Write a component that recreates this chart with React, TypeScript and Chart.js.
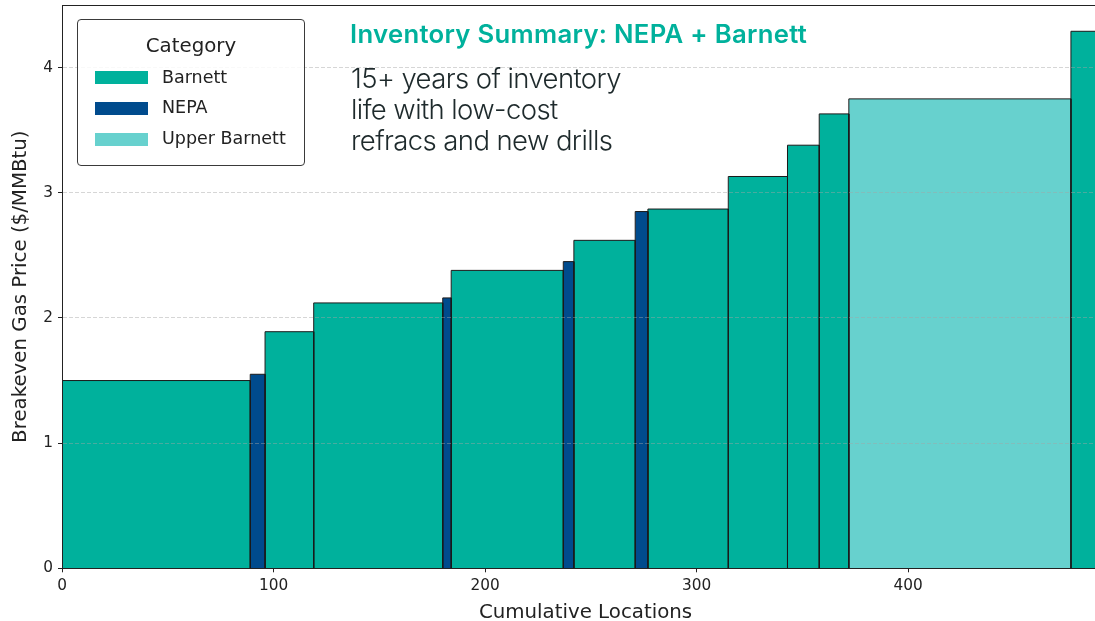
import React, { useEffect, useRef } from 'react';
import { Chart, registerables } from 'chart.js';

Chart.register(...registerables);

// ---- data ----
const categories = [
  'Barnett', 'NEPA', 'Barnett', 'Barnett', 'NEPA', 'Barnett', 'NEPA', 'Barnett',
  'NEPA', 'Barnett', 'Barnett', 'Barnett', 'Barnett', 'Upper Barnett', 'Barnett',
];
const locationCounts = [89, 7, 23, 61, 4, 53, 5, 29, 6, 38, 28, 15, 14, 105, 18];
const breakevenPrices = [1.5, 1.55, 1.89, 2.12, 2.16, 2.38, 2.45, 2.62, 2.85, 2.87, 3.13, 3.38, 3.63, 3.75, 4.29];
const legendCategories = ['Barnett', 'NEPA', 'Upper Barnett'];
const categoryColors: Record<string, string> = {
  Barnett: '#00B19C',
  NEPA: '#004B8D',
  'Upper Barnett': '#67D1CE',
};
const xTickValues = [0, 100, 200, 300, 400];
const yTickValues = [0, 1, 2, 3, 4];
const yMax = 4.5;
const titleText = 'Inventory Summary: NEPA + Barnett';
const subtitleLines = ['15+ years of inventory', 'life with low-cost', 'refracs and new drills'];
const xAxisLabel = 'Cumulative Locations';
const yAxisLabel = 'Breakeven Gas Price ($/MMBtu)';

const AXIS = '#222222';
const FONT = "'DejaVu Sans', sans-serif";

export default function App() {
  const canvasRef = useRef<HTMLCanvasElement | null>(null);

  useEffect(() => {
    document.body.style.margin = '0';
    const canvas = canvasRef.current;
    if (!canvas) return;

    let start = 0;
    const datasets = categories.map((cat, i) => {
      const x0 = start;
      const x1 = start + locationCounts[i];
      start = x1;
      const h = breakevenPrices[i];
      return {
        label: cat,
        data: [
          { x: x0, y: 0 },
          { x: x0, y: h },
          { x: x1, y: h },
          { x: x1, y: 0 },
        ],
        backgroundColor: categoryColors[cat],
        borderColor: '#1a1a1a',
        borderWidth: 1,
        borderJoinStyle: 'miter' as const,
        borderCapStyle: 'butt' as const,
        fill: 'origin',
        pointRadius: 0,
        pointHoverRadius: 0,
        tension: 0,
      };
    });
    const xMax = start;

    const noPad = (s: any) => {
      s.paddingTop = 0;
      s.paddingBottom = 0;
      s.paddingLeft = 0;
      s.paddingRight = 0;
    };

    const chart = new Chart(canvas, {
      type: 'line',
      data: { datasets: datasets as any },
      options: {
        animation: false,
        responsive: false,
        events: [],
        layout: { padding: { left: 0, right: 0, top: 5, bottom: 0 } },
        plugins: {
          legend: { display: false },
          tooltip: { enabled: false },
        },
        scales: {
          x: {
            type: 'linear',
            position: 'bottom',
            min: 0,
            max: xMax,
            afterBuildTicks: (s: any) => {
              s.ticks = xTickValues.map((v) => ({ value: v }));
            },
            afterFit: (s: any) => {
              s.height = 56.7;
              noPad(s);
            },
            ticks: {
              color: AXIS,
              font: { family: FONT, size: 15.3 },
              padding: 5,
              maxRotation: 0,
              autoSkip: false,
            },
            grid: {
              drawOnChartArea: false,
              drawTicks: true,
              tickLength: 4,
              tickColor: AXIS,
              tickWidth: 1,
              z: 1,
            },
            border: { display: true, color: AXIS, width: 1, z: 1 },
            title: {
              display: true,
              text: xAxisLabel,
              color: AXIS,
              font: { family: FONT, size: 19.8 },
              padding: { top: 0, bottom: 0 },
            },
          } as any,
          xTop: {
            type: 'linear',
            position: 'top',
            min: 0,
            max: xMax,
            afterFit: (s: any) => {
              s.height = 0;
              noPad(s);
            },
            ticks: { display: false },
            grid: { display: false, drawTicks: false },
            border: { display: true, color: AXIS, width: 1, z: 1 },
          } as any,
          y: {
            type: 'linear',
            min: 0,
            max: yMax,
            afterBuildTicks: (s: any) => {
              s.ticks = yTickValues.map((v) => ({ value: v }));
            },
            afterFit: (s: any) => {
              s.width = 62;
              noPad(s);
            },
            ticks: {
              color: AXIS,
              font: { family: FONT, size: 15.3 },
              padding: 5,
              autoSkip: false,
            },
            grid: {
              color: (ctx: any) =>
                ctx.tick && ctx.tick.value === 0 ? 'rgba(0,0,0,0)' : 'rgba(165,165,165,0.45)',
              lineWidth: 1,
              drawTicks: true,
              tickLength: 4,
              tickColor: AXIS,
              tickWidth: 1,
              tickBorderDash: [],
              z: 1,
            },
            border: { display: true, color: AXIS, width: 1, dash: [4, 2], z: 1 },
            title: {
              display: true,
              text: yAxisLabel,
              color: AXIS,
              font: { family: FONT, size: 19.8 },
              padding: { top: 9, bottom: 0 },
            },
          } as any,
        },
      },
    });

    return () => {
      chart.destroy();
    };
  }, []);

  const legendRowTops = [68.5, 99.2, 129.9];
  const patchTops = [71, 101.7, 132.7];

  return (
    <div
      style={{
        position: 'absolute',
        left: 0,
        top: 0,
        width: 1095,
        height: 621,
        overflow: 'hidden',
        background: '#ffffff',
      }}
    >
      <canvas ref={canvasRef} width={1109} height={625} style={{ display: 'block' }} />

      {/* legend */}
      <div
        style={{
          position: 'absolute',
          left: 77,
          top: 19,
          width: 228,
          height: 147,
          boxSizing: 'border-box',
          border: '1px solid #3a3a3a',
          borderRadius: 4,
          background: 'rgba(255,255,255,0.85)',
        }}
      />
      <div
        style={{
          position: 'absolute',
          left: 77,
          width: 228,
          top: 36.3,
          textAlign: 'center',
          fontFamily: FONT,
          fontSize: 19.8,
          lineHeight: '19.8px',
          color: AXIS,
          whiteSpace: 'nowrap',
        }}
      >
        Category
      </div>
      {legendCategories.map((cat, i) => (
        <React.Fragment key={cat}>
          <div
            style={{
              position: 'absolute',
              left: 94.5,
              top: patchTops[i],
              width: 53.5,
              height: 13.3,
              background: categoryColors[cat],
            }}
          />
          <div
            style={{
              position: 'absolute',
              left: 162,
              top: legendRowTops[i],
              fontFamily: FONT,
              fontSize: 17.5,
              lineHeight: '17.5px',
              color: AXIS,
              whiteSpace: 'nowrap',
            }}
          >
            {cat}
          </div>
        </React.Fragment>
      ))}

      {/* annotations */}
      <div
        style={{
          position: 'absolute',
          left: 350,
          top: 20.5,
          fontFamily: "Inter, 'Open Sans', sans-serif",
          fontWeight: 600,
          fontSize: 25.7,
          lineHeight: '25.7px',
          color: '#00B19C',
          whiteSpace: 'nowrap',
          letterSpacing: '0.3px',
        }}
      >
        {titleText}
      </div>
      <div
        style={{
          position: 'absolute',
          left: 351,
          top: 62.7,
          fontFamily: "Inter, 'Open Sans', sans-serif",
          fontWeight: 300,
          fontSize: 27.5,
          lineHeight: '31.2px',
          color: '#1e2a2c',
          whiteSpace: 'nowrap',
          letterSpacing: '-0.6px',
        }}
      >
        {subtitleLines.map((l) => (
          <div key={l}>{l}</div>
        ))}
      </div>
    </div>
  );
}
